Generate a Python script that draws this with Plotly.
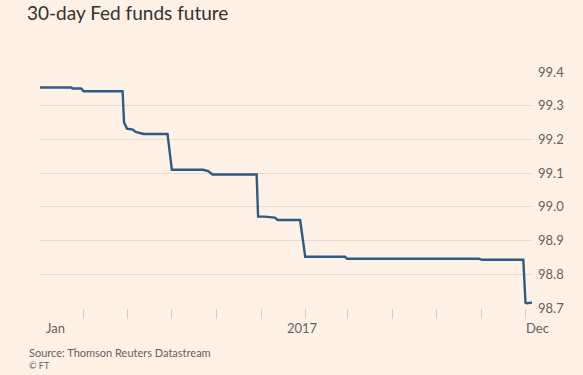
import plotly.graph_objects as go

# Data
dates = [
    "2016-01-01", "2016-02-13", "2016-02-15", "2016-02-27", "2016-03-01",
    "2016-04-24", "2016-04-26", "2016-04-30", "2016-05-08", "2016-05-12",
    "2016-05-23", "2016-06-25", "2016-07-01", "2016-08-13", "2016-08-20",
    "2016-08-26", "2016-10-26", "2016-10-28", "2016-11-06", "2016-11-20",
    "2016-11-24", "2016-12-25", "2017-01-01", "2017-02-25", "2017-02-28",
    "2017-08-29", "2017-09-02", "2017-10-29", "2017-11-01", "2017-11-03",
    "2017-11-10", "2017-11-12",
]
values = [
    99.354, 99.354, 99.351, 99.351, 99.343,
    99.343, 99.250, 99.232, 99.229, 99.222,
    99.216, 99.216, 99.110, 99.110, 99.106,
    99.096, 99.096, 98.971, 98.971, 98.968,
    98.961, 98.961, 98.852, 98.852, 98.846,
    98.846, 98.843, 98.843, 98.716, 98.714,
    98.716, 98.722,
]
tick_dates = ["2016-03-01", "2016-05-01", "2016-07-01", "2016-09-01", "2016-11-01",
              "2017-01-01", "2017-03-01", "2017-05-01", "2017-07-01", "2017-09-01",
              "2017-11-01"]
x_labels = ["Jan", "2017"]
x_label_dates = ["2016-01-22", "2016-12-28"]
x_end_label = "Dec"
y_ticks = [98.7, 98.8, 98.9, 99.0, 99.1, 99.2, 99.3, 99.4]

BG = "#fff1e5"
GRID = "#e9dccf"
TXT = "#66605c"
FONT = "Lato"

fig = go.Figure()
fig.add_trace(go.Scatter(x=dates, y=values, mode="lines",
                         line=dict(color="#2e5a87", width=2.4),
                         hoverinfo="skip", showlegend=False))

fig.update_layout(
    width=583, height=375,
    paper_bgcolor=BG, plot_bgcolor=BG,
    margin=dict(l=40, r=51, t=72, b=67),
    title=dict(text="30-day Fed funds future", x=27/583, xref="container", xanchor="left",
               y=1 - 13/375, yref="container", yanchor="middle",
               font=dict(family=FONT, size=19, color="#33302e")),
    xaxis=dict(type="date", range=["2016-01-01", "2017-11-10"],
               tickvals=tick_dates, ticktext=[""] * len(tick_dates),
               ticks="outside", ticklen=10, tickcolor="#d8cbbf", tickwidth=1,
               showgrid=False, zeroline=False, showline=False),
    yaxis=dict(side="right", range=[98.7, 99.4], tickvals=y_ticks,
               ticktext=[f"{v:.1f}" for v in y_ticks],
               showgrid=True, gridcolor=GRID, gridwidth=1, zeroline=False,
               ticks="", ticklabelstandoff=5,
               tickfont=dict(family=FONT, size=13, color=TXT)),
    font=dict(family=FONT, color=TXT),
)

for lab, d in zip(x_labels, x_label_dates):
    fig.add_annotation(x=d, y=(308 - 328) / 236, xref="x", yref="paper",
                       text=lab, showarrow=False, xanchor="center", yanchor="middle",
                       font=dict(family=FONT, size=13, color=TXT))
fig.add_annotation(x=(537 - 40) / 492, y=(308 - 328) / 236, xref="paper", yref="paper",
                   text=x_end_label, showarrow=False, xanchor="center", yanchor="middle",
                   font=dict(family=FONT, size=13, color=TXT))

fig.add_annotation(x=(27 - 40) / 492, y=(308 - 352) / 236, xref="paper", yref="paper",
                   text="Source: Thomson Reuters Datastream", showarrow=False,
                   xanchor="left", yanchor="middle",
                   font=dict(family=FONT, size=11, color=TXT))
fig.add_annotation(x=(27 - 40) / 492, y=(308 - 365) / 236, xref="paper", yref="paper",
                   text="© FT", showarrow=False,
                   xanchor="left", yanchor="middle",
                   font=dict(family=FONT, size=9, color=TXT))

fig.write_html("out.html", config={"displayModeBar": False},
               post_script="document.body.style.margin='0';document.body.style.overflow='hidden';")
